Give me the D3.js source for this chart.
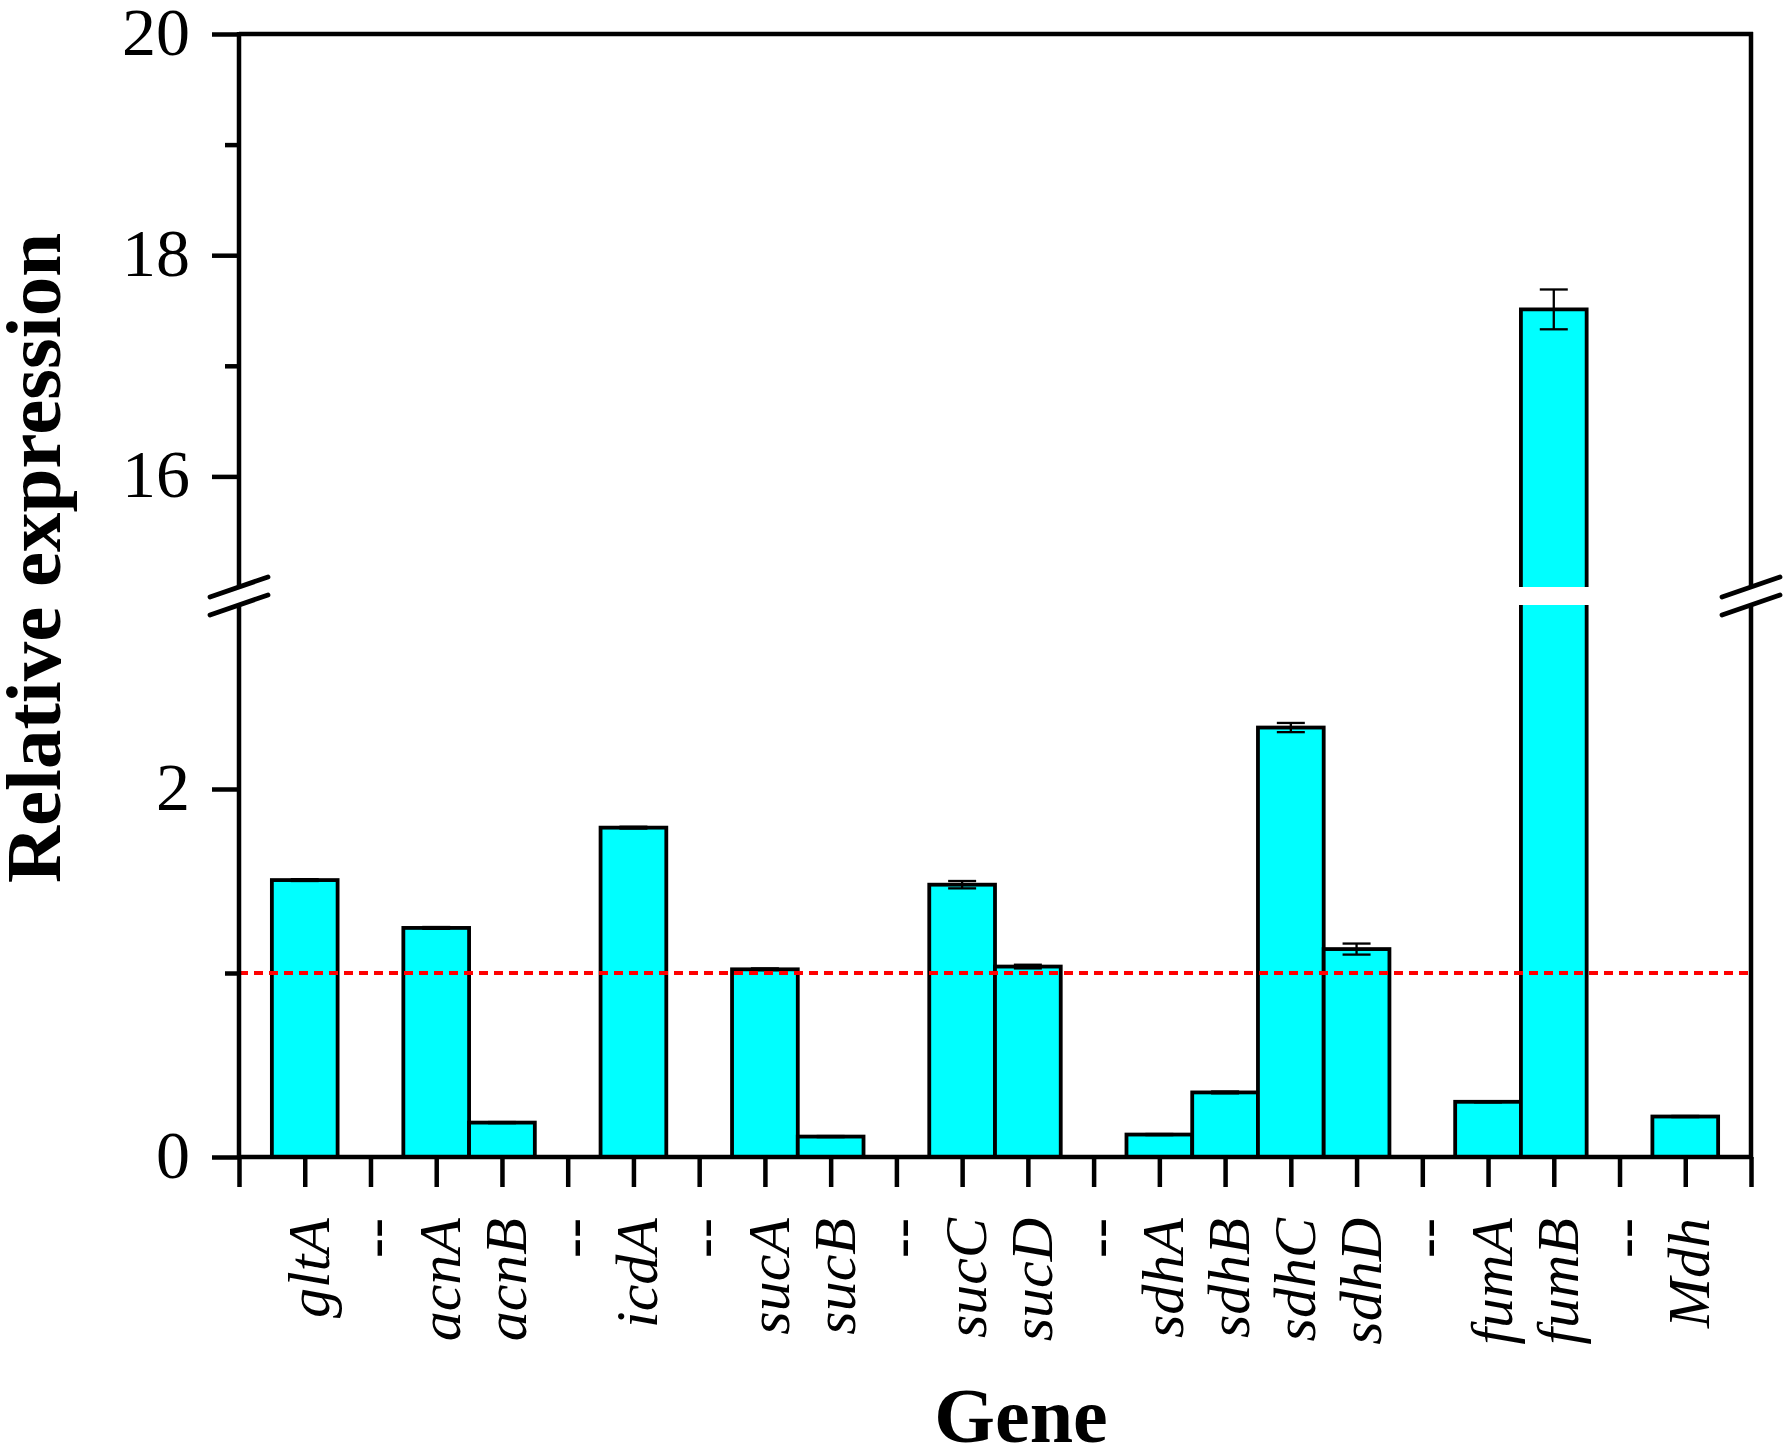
<!DOCTYPE html>
<html>
<head>
<meta charset="utf-8">
<script src="https://cdn.jsdelivr.net/npm/d3@7"></script>
<style>
  html, body { margin: 0; padding: 0; background: #fff; }
  svg { display: block; }
</style>
</head>
<body>
<svg id="chart" width="1786" height="1456"></svg>
<script>
// ---- data ----
const genes = ["gltA","--","acnA","acnB","--","icdA","--","sucA","sucB","--","sucC","sucD","--","sdhA","sdhB","sdhC","sdhD","--","fumA","fumB","--","Mdh"];
const values = [1.505, null, 1.245, 0.187, null, 1.79, null, 1.02, 0.111, null, 1.48, 1.035, null, 0.122, 0.351, 2.334, 1.13, null, 0.30, 17.51, null, 0.22];
const errors = [0.005, null, 0.005, 0.003, null, 0.005, null, 0.005, 0.003, null, 0.02, 0.01, null, 0.003, 0.005, 0.025, 0.03, null, 0.003, 0.18, null, 0.003];
const lowerMajorTicks = [0, 2];
const lowerMinorTicks = [1];
const upperMajorTicks = [16, 18, 20];
const upperMinorTicks = [17, 19];
const lowerDomain = [0, 3];
const upperDomain = [15, 20];
const referenceLevel = 1;
const yTitle = "Relative expression";
const xTitle = "Gene";

(function () {
// ---- layout ----
const svg = d3.select("#chart");
const pL = 239, pR = 1751, pT = 34, pB = 1157;
const lowTop = 605, upBottom = 587;
const serif = "'Liberation Serif','Times New Roman',serif";
const barStroke = 3.8;

const x = d3.scaleLinear().domain([0, genes.length + 1]).range([pL, pR]);
const step = x(1) - x(0);
const yLow = d3.scaleLinear().domain(lowerDomain).range([pB, lowTop]);
const yUp = d3.scaleLinear().domain(upperDomain).range([upBottom, pT]);
const yv = v => v <= lowerDomain[1] ? yLow(v) : yUp(v);

const data = genes.map((g, i) => ({ g, i: i + 1, v: values[i], e: errors[i] }));
const bars = data.filter(d => d.v != null);

// ---- bars ----
const gb = svg.append("g");
bars.forEach(d => {
  const x0 = x(d.i) - step / 2, x1 = x(d.i) + step / 2;
  if (d.v <= lowerDomain[1]) {
    gb.append("rect").attr("x", x0).attr("y", yLow(d.v)).attr("width", step)
      .attr("height", yLow(0) - yLow(d.v)).attr("fill", "#00ffff")
      .attr("stroke", "#000").attr("stroke-width", barStroke);
  } else {
    gb.append("rect").attr("x", x0).attr("y", yLow(lowerDomain[1])).attr("width", step)
      .attr("height", yLow(0) - yLow(lowerDomain[1])).attr("fill", "#00ffff");
    gb.append("rect").attr("x", x0).attr("y", yUp(d.v)).attr("width", step)
      .attr("height", yUp(upperDomain[0]) - yUp(d.v)).attr("fill", "#00ffff");
    gb.append("path").attr("fill", "none").attr("stroke", "#000").attr("stroke-width", barStroke)
      .attr("d", `M${x0},${yLow(lowerDomain[1])}V${yLow(0)}H${x1}V${yLow(lowerDomain[1])}`);
    gb.append("path").attr("fill", "none").attr("stroke", "#000").attr("stroke-width", barStroke)
      .attr("d", `M${x0},${yUp(upperDomain[0])}V${yUp(d.v)}H${x1}V${yUp(upperDomain[0])}`);
  }
});

// ---- error bars ----
const ge = svg.append("g").attr("stroke", "#000").attr("stroke-width", 2.3);
bars.forEach(d => {
  const cx = x(d.i), hi = yv(d.v + d.e), lo = yv(d.v - d.e), cw = 14;
  ge.append("line").attr("x1", cx).attr("x2", cx).attr("y1", hi).attr("y2", lo);
  ge.append("line").attr("x1", cx - cw).attr("x2", cx + cw).attr("y1", hi).attr("y2", hi);
  ge.append("line").attr("x1", cx - cw).attr("x2", cx + cw).attr("y1", lo).attr("y2", lo);
});

// ---- reference line ----
svg.append("line").attr("x1", pL).attr("x2", pR)
  .attr("y1", yLow(referenceLevel)).attr("y2", yLow(referenceLevel))
  .attr("stroke", "#ff0000").attr("stroke-width", 3.8).attr("stroke-dasharray", "9,6");

// ---- frame / axis lines ----
const ga = svg.append("g").attr("stroke", "#000").attr("stroke-width", 4.5).attr("fill", "none");
[pL, pR].forEach(ax => {
  ga.append("line").attr("x1", ax).attr("x2", ax).attr("y1", pT - 2).attr("y2", yUp(upperDomain[0]));
  ga.append("line").attr("x1", ax).attr("x2", ax).attr("y1", yLow(lowerDomain[1])).attr("y2", pB + 2);
  [yUp(upperDomain[0]), yLow(lowerDomain[1])].forEach(by => {
    ga.append("line").attr("x1", ax - 29).attr("y1", by + 10).attr("x2", ax + 29).attr("y2", by - 10)
      .attr("stroke-width", 4.8).attr("stroke-linecap", "round");
  });
});
ga.append("line").attr("x1", pL).attr("x2", pR + 2).attr("y1", pT).attr("y2", pT);
ga.append("line").attr("x1", pL).attr("x2", pR + 2).attr("y1", pB).attr("y2", pB);

// ---- y axes (ticks) ----
function styleAxis(g) {
  g.select(".domain").remove();
  g.selectAll(".tick line").attr("stroke", "#000").attr("stroke-width", 4.5);
  g.selectAll(".tick text").attr("font-family", serif).attr("font-size", 68)
    .attr("fill", "#000").attr("dy", "0.3em").attr("x", -49);
}
svg.append("g").attr("transform", `translate(${pL},0)`)
  .call(d3.axisLeft(yLow).tickValues(lowerMajorTicks).tickSize(27).tickFormat(d3.format("d")))
  .call(styleAxis);
svg.append("g").attr("transform", `translate(${pL},0)`)
  .call(d3.axisLeft(yLow).tickValues(lowerMinorTicks).tickSize(14).tickFormat(""))
  .call(styleAxis);
svg.append("g").attr("transform", `translate(${pL},0)`)
  .call(d3.axisLeft(yUp).tickValues(upperMajorTicks).tickSize(27).tickFormat(d3.format("d")))
  .call(styleAxis);
svg.append("g").attr("transform", `translate(${pL},0)`)
  .call(d3.axisLeft(yUp).tickValues(upperMinorTicks).tickSize(14).tickFormat(""))
  .call(styleAxis);

// ---- x axis ticks ----
svg.append("g").attr("transform", `translate(0,${pB})`)
  .call(d3.axisBottom(x).tickValues(d3.range(0, genes.length + 2)).tickSize(30).tickFormat(""))
  .call(g => {
    g.select(".domain").remove();
    g.selectAll(".tick line").attr("stroke", "#000").attr("stroke-width", 4.5);
  });

// ---- x labels ----
svg.append("g").selectAll("text").data(data).join("text")
  .attr("transform", d => `translate(${x(d.i) + 24},1218) rotate(-90)`)
  .attr("text-anchor", "end")
  .attr("font-family", serif).attr("font-style", "italic").attr("font-size", 60)
  .attr("fill", "#000")
  .text(d => d.g);

// ---- titles ----
svg.append("text").attr("transform", "translate(60,558) rotate(-90)")
  .attr("text-anchor", "middle").attr("font-family", serif).attr("font-weight", "bold")
  .attr("font-size", 79).attr("fill", "#000").text(yTitle);
svg.append("text").attr("x", 1021).attr("y", 1442)
  .attr("text-anchor", "middle").attr("font-family", serif).attr("font-weight", "bold")
  .attr("font-size", 78).attr("fill", "#000").text(xTitle);
})();
</script>
</body>
</html>
